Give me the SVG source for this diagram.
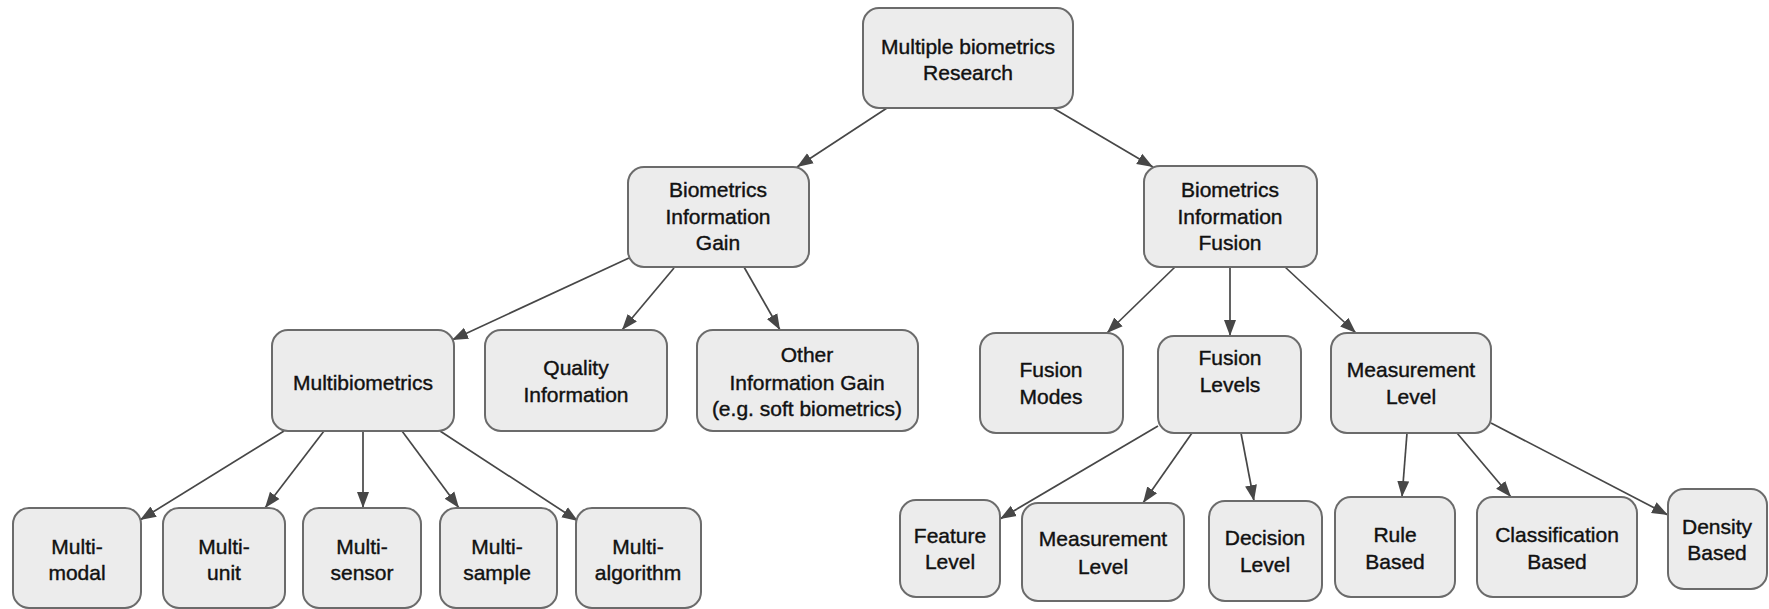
<svg xmlns="http://www.w3.org/2000/svg" width="1769" height="609" viewBox="0 0 1769 609">
<defs>
<style>
.box{fill:#ececec;stroke:#6b6b6b;stroke-width:2}
.t{font-family:"Liberation Sans",Arial,sans-serif;font-size:21px;fill:#111;stroke:#111;stroke-width:0.4;text-anchor:middle}
.e{stroke:#474747;stroke-width:1.7;fill:none;marker-end:url(#ah)}
</style>
<marker id="ah" markerUnits="userSpaceOnUse" markerWidth="17" markerHeight="15" viewBox="0 0 17 15" refX="16" refY="7.5" orient="auto">
<path d="M0,1.5 L16,7.5 L0,13.5 Z" fill="#474747"/>
</marker>
</defs>
<rect width="1769" height="609" fill="#fff"/>
<g id="connectors">
<path class="e" d="M887,108 L797,167"/>
<path class="e" d="M1053,108 L1153,167"/>
<path class="e" d="M629,258 L452,340"/>
<path class="e" d="M674,268 L622,330"/>
<path class="e" d="M744,267 L780,330"/>
<path class="e" d="M284,431 L140,520"/>
<path class="e" d="M324,431 L265,508"/>
<path class="e" d="M363,431 L363,508"/>
<path class="e" d="M402,431 L459,508"/>
<path class="e" d="M440,431 L578,521"/>
<path class="e" d="M1175,267 L1107,333"/>
<path class="e" d="M1230,267 L1230,336"/>
<path class="e" d="M1285,267 L1356,333"/>
<path class="e" d="M1158,426 L1000,519"/>
<path class="e" d="M1192,433 L1143,503"/>
<path class="e" d="M1241,433 L1254,501"/>
<path class="e" d="M1407,433 L1402,497"/>
<path class="e" d="M1457,433 L1511,497"/>
<path class="e" d="M1491,423 L1668,515"/>
</g>
<g id="root"><rect class="box" x="863" y="8" width="210" height="100" rx="16"/><text class="t" x="968" y="54">Multiple biometrics</text><text class="t" x="968" y="80">Research</text></g>
<g id="gain"><rect class="box" x="628" y="167" width="181" height="100" rx="16"/><text class="t" x="718" y="197">Biometrics</text><text class="t" x="718" y="224">Information</text><text class="t" x="718" y="250">Gain</text></g>
<g id="fusion"><rect class="box" x="1144" y="166" width="173" height="101" rx="16"/><text class="t" x="1230" y="197">Biometrics</text><text class="t" x="1230" y="224">Information</text><text class="t" x="1230" y="250">Fusion</text></g>
<g id="multibiometrics"><rect class="box" x="272" y="330" width="182" height="101" rx="16"/><text class="t" x="363" y="390">Multibiometrics</text></g>
<g id="quality"><rect class="box" x="485" y="330" width="182" height="101" rx="16"/><text class="t" x="576" y="375">Quality</text><text class="t" x="576" y="402">Information</text></g>
<g id="other"><rect class="box" x="697" y="330" width="221" height="101" rx="16"/><text class="t" x="807" y="362">Other</text><text class="t" x="807" y="390">Information Gain</text><text class="t" x="807" y="416">(e.g. soft biometrics)</text></g>
<g id="modes"><rect class="box" x="980" y="333" width="143" height="100" rx="16"/><text class="t" x="1051" y="377">Fusion</text><text class="t" x="1051" y="404">Modes</text></g>
<g id="levels"><rect class="box" x="1158" y="336" width="143" height="97" rx="16"/><text class="t" x="1230" y="365">Fusion</text><text class="t" x="1230" y="392">Levels</text></g>
<g id="measurement"><rect class="box" x="1331" y="333" width="160" height="100" rx="16"/><text class="t" x="1411" y="377">Measurement</text><text class="t" x="1411" y="404">Level</text></g>
<g id="multimodal"><rect class="box" x="13" y="508" width="128" height="100" rx="16"/><text class="t" x="77" y="554">Multi-</text><text class="t" x="77" y="580">modal</text></g>
<g id="multiunit"><rect class="box" x="163" y="508" width="122" height="100" rx="16"/><text class="t" x="224" y="554">Multi-</text><text class="t" x="224" y="580">unit</text></g>
<g id="multisensor"><rect class="box" x="303" y="508" width="118" height="100" rx="16"/><text class="t" x="362" y="554">Multi-</text><text class="t" x="362" y="580">sensor</text></g>
<g id="multisample"><rect class="box" x="440" y="508" width="117" height="100" rx="16"/><text class="t" x="497" y="554">Multi-</text><text class="t" x="497" y="580">sample</text></g>
<g id="multialgorithm"><rect class="box" x="576" y="508" width="125" height="100" rx="16"/><text class="t" x="638" y="554">Multi-</text><text class="t" x="638" y="580">algorithm</text></g>
<g id="feature"><rect class="box" x="900" y="500" width="100" height="97" rx="16"/><text class="t" x="950" y="543">Feature</text><text class="t" x="950" y="569">Level</text></g>
<g id="measurement2"><rect class="box" x="1022" y="503" width="162" height="98" rx="16"/><text class="t" x="1103" y="546">Measurement</text><text class="t" x="1103" y="574">Level</text></g>
<g id="decision"><rect class="box" x="1209" y="501" width="113" height="100" rx="16"/><text class="t" x="1265" y="545">Decision</text><text class="t" x="1265" y="572">Level</text></g>
<g id="rule"><rect class="box" x="1335" y="497" width="120" height="100" rx="16"/><text class="t" x="1395" y="542">Rule</text><text class="t" x="1395" y="569">Based</text></g>
<g id="classification"><rect class="box" x="1477" y="497" width="160" height="100" rx="16"/><text class="t" x="1557" y="542">Classification</text><text class="t" x="1557" y="569">Based</text></g>
<g id="density"><rect class="box" x="1668" y="489" width="99" height="100" rx="16"/><text class="t" x="1717" y="534">Density</text><text class="t" x="1717" y="560">Based</text></g>
</svg>
